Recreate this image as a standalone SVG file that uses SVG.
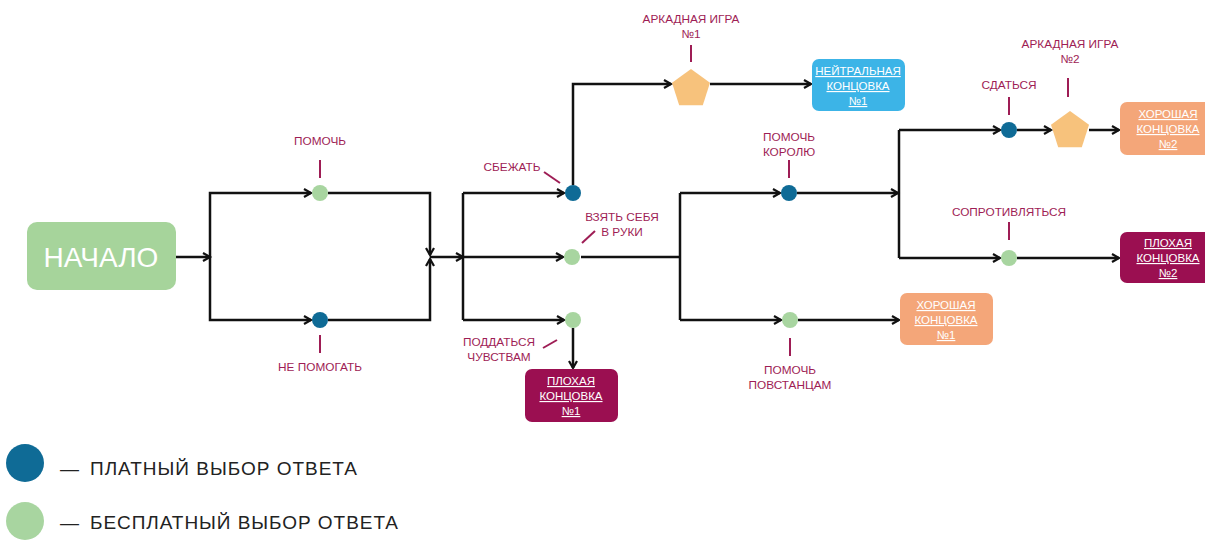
<svg xmlns="http://www.w3.org/2000/svg" width="1205" height="541" viewBox="0 0 1205 541">
<style>
.c{fill:none;stroke:#111;stroke-width:2.5;stroke-linejoin:miter}
.a{marker-end:url(#arr)}
.t{stroke:#9e1d55;stroke-width:2;fill:none}
.lbl{font-family:"Liberation Sans",Arial,sans-serif;font-size:11.8px;fill:#9e1d55;text-anchor:middle}
.bt{font-family:"Liberation Sans",Arial,sans-serif;font-size:11.5px;fill:#fff;text-anchor:middle;text-decoration:underline}
.free{fill:#a8d5a0}
.paid{fill:#0f6b96}
.pent{fill:#f7c27c}
.leg{font-family:"Liberation Sans",Arial,sans-serif;font-size:19px;fill:#222}
</style>
<defs>
<marker id="arr" markerUnits="userSpaceOnUse" markerWidth="12" markerHeight="12" refX="8" refY="5" orient="auto">
<path d="M1,1 L8,5 L1,9" fill="none" stroke="#111" stroke-width="2.2"/>
</marker>
</defs>
<rect width="1205" height="541" fill="#fff"/>

<g id="connectors">
<path class="c a" d="M176,257 H210"/>
<path class="c a" d="M210,257 V193 H311"/>
<path class="c a" d="M210,257 V320 H311"/>
<path class="c a" d="M328,193 H430 V255"/>
<path class="c a" d="M328,320 H430 V259"/>
<path class="c a" d="M430,257 H463"/>
<path class="c" d="M463,193 V320"/>
<path class="c a" d="M463,193 H564"/>
<path class="c a" d="M463,257 H563"/>
<path class="c a" d="M463,320 H564"/>
<path class="c a" d="M573,185 V84 H671"/>
<path class="c a" d="M710,84 H811"/>
<path class="c a" d="M573,328 V368"/>
<path class="c" d="M581,257 H680"/>
<path class="c" d="M680,193 V320"/>
<path class="c a" d="M680,193 H780"/>
<path class="c a" d="M680,320 H781"/>
<path class="c a" d="M797,193 H898"/>
<path class="c a" d="M798,320 H899"/>
<path class="c" d="M899,130 V258"/>
<path class="c a" d="M899,130 H1000"/>
<path class="c a" d="M899,258 H1000"/>
<path class="c a" d="M1017,130 H1051"/>
<path class="c a" d="M1089,130 H1119"/>
<path class="c a" d="M1017,258 H1119"/>
</g>

<g id="ticks">
<line class="t" x1="320" y1="160" x2="320" y2="178"/>
<line class="t" x1="320" y1="335" x2="320" y2="353"/>
<line class="t" x1="691" y1="45" x2="691" y2="62"/>
<line class="t" x1="544" y1="172" x2="560" y2="183"/>
<line class="t" x1="582" y1="243" x2="595" y2="231"/>
<line class="t" x1="543" y1="348" x2="557" y2="340"/>
<line class="t" x1="789" y1="160" x2="789" y2="178"/>
<line class="t" x1="790" y1="338" x2="790" y2="356"/>
<line class="t" x1="1009" y1="97" x2="1009" y2="115"/>
<line class="t" x1="1068" y1="78" x2="1068" y2="97"/>
<line class="t" x1="1009" y1="222" x2="1009" y2="240"/>
</g>

<g id="start">
<rect x="27" y="222" width="149" height="68" rx="10" fill="#a6d49b"/>
<text x="101" y="267" font-family="'Liberation Sans',Arial,sans-serif" font-size="28" fill="#fff" text-anchor="middle">НАЧАЛО</text>
</g>

<g id="help"><circle class="free" cx="320" cy="193" r="8"/><text class="lbl" x="320" y="145">ПОМОЧЬ</text></g>
<g id="nohelp"><circle class="paid" cx="320" cy="320" r="8"/><text class="lbl" x="320" y="371">НЕ ПОМОГАТЬ</text></g>

<g id="escape"><circle class="paid" cx="573" cy="193" r="8"/><text class="lbl" x="512" y="171">СБЕЖАТЬ</text></g>
<g id="selfcontrol"><circle class="free" cx="572" cy="257" r="8"/><text class="lbl" x="622" y="221">ВЗЯТЬ СЕБЯ</text><text class="lbl" x="622" y="236">В РУКИ</text></g>
<g id="feelings"><circle class="free" cx="573" cy="320" r="8"/><text class="lbl" x="499" y="346">ПОДДАТЬСЯ</text><text class="lbl" x="499" y="361">ЧУВСТВАМ</text></g>

<g id="arcade1">
<polygon class="pent" points="691,69 710,82.8 702.8,105.2 679.2,105.2 672,82.8"/>
<text class="lbl" x="691" y="23">АРКАДНАЯ ИГРА</text><text class="lbl" x="691" y="38">№1</text>
</g>

<g id="neutral1">
<rect x="812" y="59" width="93" height="52" rx="7" fill="#3cb4e7"/>
<text class="bt" x="858" y="75">НЕЙТРАЛЬНАЯ</text><text class="bt" x="858" y="90">КОНЦОВКА</text><text class="bt" x="858" y="105">№1</text>
</g>

<g id="bad1">
<rect x="525" y="369" width="93" height="53" rx="7" fill="#9b0f51"/>
<text class="bt" x="571" y="385">ПЛОХАЯ</text><text class="bt" x="571" y="400">КОНЦОВКА</text><text class="bt" x="571" y="415">№1</text>
</g>

<g id="helpking"><circle class="paid" cx="789" cy="193" r="8"/><text class="lbl" x="789" y="141">ПОМОЧЬ</text><text class="lbl" x="789" y="156">КОРОЛЮ</text></g>
<g id="helprebels"><circle class="free" cx="790" cy="320" r="8"/><text class="lbl" x="790" y="374">ПОМОЧЬ</text><text class="lbl" x="790" y="389">ПОВСТАНЦАМ</text></g>

<g id="good1">
<rect x="900" y="293" width="93" height="52" rx="7" fill="#f4a679"/>
<text class="bt" x="946" y="309">ХОРОШАЯ</text><text class="bt" x="946" y="324">КОНЦОВКА</text><text class="bt" x="946" y="339">№1</text>
</g>

<g id="surrender"><circle class="paid" cx="1009" cy="130" r="8"/><text class="lbl" x="1009" y="89">СДАТЬСЯ</text></g>
<g id="arcade2">
<polygon class="pent" points="1070,111 1089,124.8 1081.8,147.2 1058.2,147.2 1051,124.8"/>
<text class="lbl" x="1070" y="48">АРКАДНАЯ ИГРА</text><text class="lbl" x="1070" y="63">№2</text>
</g>
<g id="resist"><circle class="free" cx="1009" cy="258" r="8"/><text class="lbl" x="1009" y="216">СОПРОТИВЛЯТЬСЯ</text></g>

<g id="good2">
<rect x="1120" y="102" width="100" height="53" rx="7" fill="#f4a679"/>
<text class="bt" x="1168" y="118">ХОРОШАЯ</text><text class="bt" x="1168" y="133">КОНЦОВКА</text><text class="bt" x="1168" y="148">№2</text>
</g>

<g id="bad2">
<rect x="1120" y="232" width="100" height="51" rx="7" fill="#9b0f51"/>
<text class="bt" x="1168" y="247">ПЛОХАЯ</text><text class="bt" x="1168" y="262">КОНЦОВКА</text><text class="bt" x="1168" y="277">№2</text>
</g>

<g id="legend">
<circle class="paid" cx="25" cy="463" r="19"/>
<text class="leg" x="60" y="475"><tspan>—</tspan><tspan x="90" textLength="267" lengthAdjust="spacing">ПЛАТНЫЙ ВЫБОР ОТВЕТА</tspan></text>
<circle class="free" cx="25" cy="521" r="19"/>
<text class="leg" x="60" y="529"><tspan>—</tspan><tspan x="90" textLength="308" lengthAdjust="spacing">БЕСПЛАТНЫЙ ВЫБОР ОТВЕТА</tspan></text>
</g>
</svg>
